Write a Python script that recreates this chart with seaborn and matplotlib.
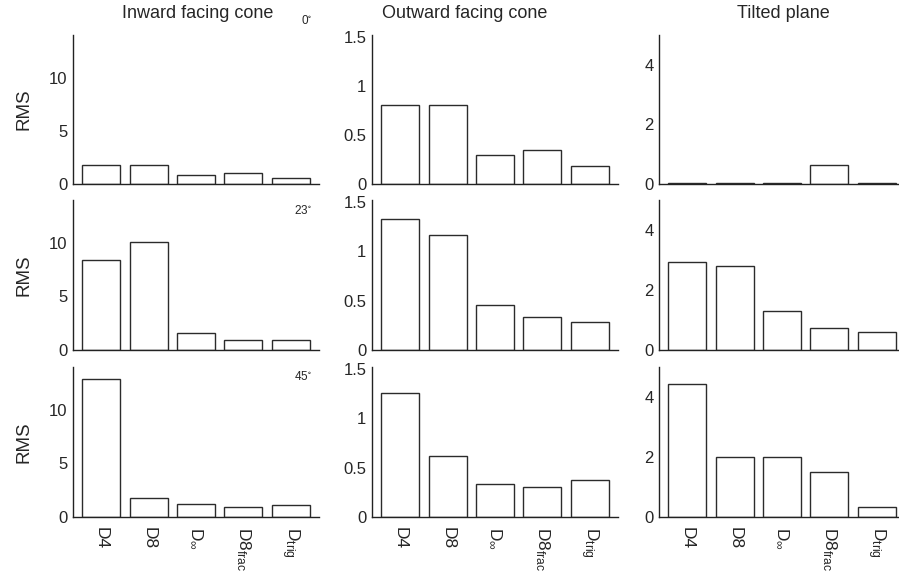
import matplotlib
matplotlib.use("Agg")
import matplotlib.pyplot as plt
import numpy as np
import pandas as pd
import seaborn as sns

# Methods compared on each surface
methods = ["D4", "D8", r"D$_{\infty}$", r"D8$_{frac}$", r"D$_{trig}$"]
surfaces = ["Inward facing cone", "Outward facing cone", "Tilted plane"]
angles = ["0", "23", "45"]

# RMS error per method, one list per surface and rotation angle
inward_0 = [1.78, 1.78, 0.80, 1.00, 0.55]
inward_23 = [8.4, 10.1, 1.6, 0.9, 0.9]
inward_45 = [12.9, 1.8, 1.25, 0.9, 1.1]

outward_0 = [0.81, 0.81, 0.30, 0.35, 0.18]
outward_23 = [1.33, 1.17, 0.46, 0.33, 0.28]
outward_45 = [1.26, 0.62, 0.33, 0.30, 0.37]

plane_0 = [0.03, 0.03, 0.03, 0.63, 0.03]
plane_23 = [2.95, 2.80, 1.30, 0.75, 0.60]
plane_45 = [4.45, 2.00, 2.00, 1.50, 0.32]

values = {
    ("Inward facing cone", "0"): inward_0,
    ("Inward facing cone", "23"): inward_23,
    ("Inward facing cone", "45"): inward_45,
    ("Outward facing cone", "0"): outward_0,
    ("Outward facing cone", "23"): outward_23,
    ("Outward facing cone", "45"): outward_45,
    ("Tilted plane", "0"): plane_0,
    ("Tilted plane", "23"): plane_23,
    ("Tilted plane", "45"): plane_45,
}

rows = []
for (surf, ang), vals in values.items():
    for m, v in zip(methods, vals):
        rows.append({"surface": surf, "angle": ang, "method": m, "rms": v})
df = pd.DataFrame(rows)

# Axis scales per surface
ylims = {"Inward facing cone": 14.0, "Outward facing cone": 1.52, "Tilted plane": 5.0}
yticks = {
    "Inward facing cone": ([0, 5, 10], ["0", "5", "10"]),
    "Outward facing cone": ([0, 0.5, 1, 1.5], ["0", "0.5", "1", "1.5"]),
    "Tilted plane": ([0, 2, 4], ["0", "2", "4"]),
}

sns.set_style("white")
plt.rcParams["font.family"] = ["Liberation Sans", "DejaVu Sans"]
plt.rcParams["mathtext.fontset"] = "custom"
plt.rcParams["mathtext.rm"] = "Liberation Sans"
plt.rcParams["mathtext.it"] = "Liberation Sans"
plt.rcParams["mathtext.default"] = "regular"

W, H = 899, 575
fig = plt.figure(figsize=(W / 100, H / 100), dpi=100)

col_left = [73, 372, 659]
ax_w = 246
row_top = [35, 200, 367]
row_bot = [184, 350, 517]
edge = "#2b2b2b"

for r, ang in enumerate(angles):
    for c, surf in enumerate(surfaces):
        ax = fig.add_axes([col_left[c] / W, 1 - row_bot[r] / H,
                           ax_w / W, (row_bot[r] - row_top[r]) / H])
        sub = df[(df.surface == surf) & (df.angle == ang)]
        sns.barplot(data=sub, x="method", y="rms", order=methods, ax=ax,
                    color="white", saturation=1, edgecolor=edge,
                    linewidth=1.0, width=0.8, errorbar=None)
        ax.set_xlim(-0.6, 4.6)
        ax.set_ylim(0, ylims[surf])
        ax.set_xlabel("")
        ax.set_ylabel("")
        for s in ["top", "right"]:
            ax.spines[s].set_visible(False)
        for s in ["left", "bottom"]:
            ax.spines[s].set_color("#222222")
            ax.spines[s].set_linewidth(1.0)
        tv, tl = yticks[surf]
        ax.set_yticks(tv)
        ax.set_yticklabels(tl, fontsize=12)
        ax.tick_params(axis="both", direction="in", length=3, width=0.8,
                       color="#222222", pad=4)
        ax.tick_params(axis="x", pad=7)
        if r == 2:
            ax.set_xticks(range(len(methods)))
            ax.set_xticklabels(methods, rotation=270, fontsize=12.5,
                               ha="center", va="top")
        else:
            ax.set_xticks(range(len(methods)))
            ax.set_xticklabels([])
        if r == 0:
            pass
        if c == 0:
            fig.text(24 / W, 1 - (row_top[r] + row_bot[r]) / 2 / H, "RMS",
                     rotation=90, ha="center", va="center", fontsize=13.5)

# Column titles
title_x = [198, 465, 783]
for c, surf in enumerate(surfaces):
    fig.text(title_x[c] / W, 1 - 14 / H, surf, ha="center", va="center",
             fontsize=13)

# Rotation angle labels
angle_y = [20, 211, 377]
for r, ang in enumerate(angles):
    fig.text(312 / W, 1 - angle_y[r] / H, ang + r"$^{\circ}$", ha="right",
             va="center", fontsize=8.5)

fig.savefig("out.png", dpi=100)
